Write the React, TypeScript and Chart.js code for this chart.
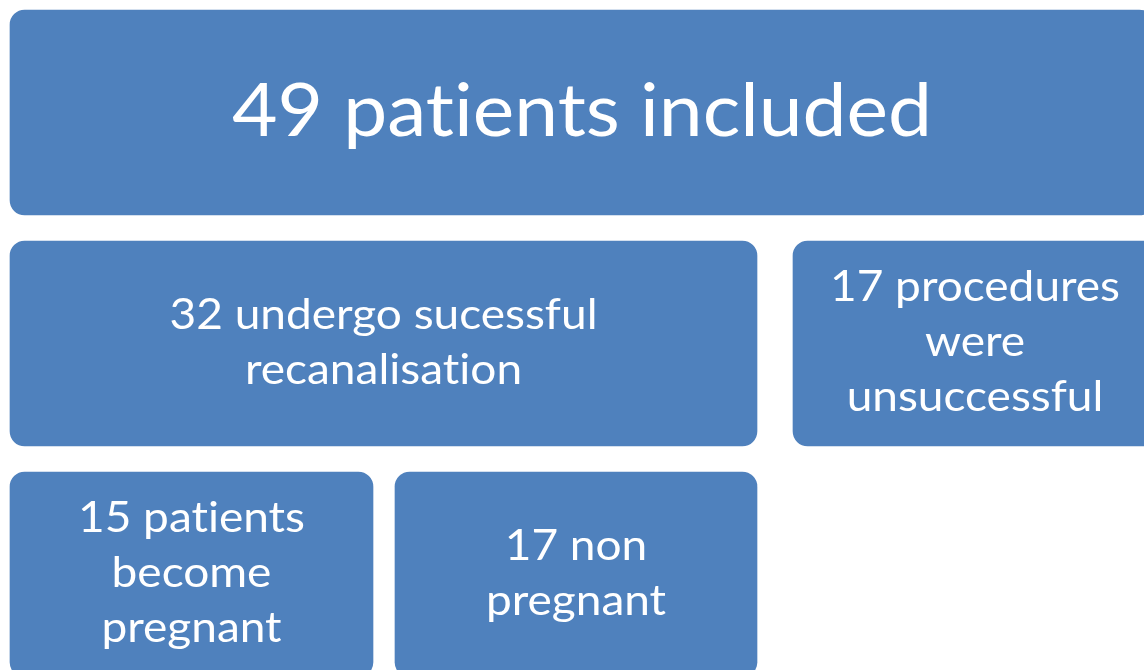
import React, { useEffect, useRef } from "react";
import { Chart, registerables } from "chart.js";

Chart.register(...registerables);

// Flowchart boxes (floating horizontal bars)
const boxLabels: string[][] = [
  ["49 patients included"],
  ["32 undergo sucessful", "recanalisation"],
  ["17 procedures", "were", "unsuccessful"],
  ["15 patients", "become", "pregnant"],
  ["17 non", "pregnant"],
];
const boxStart = [10, 10, 793, 10, 395];
const boxEnd = [1154, 757, 1157, 373, 757];
const boxRow = [0, 1, 1, 2, 2];

const BLUE = "#4F81BD";
const FONT = "Lato, 'Open Sans', sans-serif";

// split text between letters that Lato would join into ligatures (ti, fi, fl, tt)
function pieces(s: string): string[] {
  const out: string[] = [];
  let cur = "";
  for (let k = 0; k < s.length; k++) {
    cur += s[k];
    const a = s[k], b = s[k + 1];
    if (b && ((a === "t" && (b === "i" || b === "t")) || (a === "f" && (b === "i" || b === "l" || b === "f")))) {
      out.push(cur);
      cur = "";
    }
  }
  if (cur) out.push(cur);
  return out;
}

function drawLine(ctx: CanvasRenderingContext2D, s: string) {
  const parts = pieces(s);
  const widths = parts.map((p) => ctx.measureText(p).width);
  const total = widths.reduce((a, b) => a + b, 0);
  let x = -total / 2;
  parts.forEach((p, k) => {
    ctx.fillText(p, x, 0);
    x += widths[k];
  });
  return total;
}

function lineWidth(ctx: CanvasRenderingContext2D, s: string) {
  return pieces(s).reduce((a, p) => a + ctx.measureText(p).width, 0);
}

const textPlugin = {
  id: "boxText",
  afterDatasetsDraw(chart: any) {
    const ctx = chart.ctx as CanvasRenderingContext2D;
    const xs = chart.scales.x;
    const ys = chart.scales.y;
    ctx.save();
    ctx.fillStyle = "#ffffff";
    ctx.textAlign = "left";
    ctx.textBaseline = "alphabetic";
    ctx.font = `400 73px ${FONT}`;
    const titleFactor = 700 / lineWidth(ctx, boxLabels[0][0]);
    ctx.font = `400 42px ${FONT}`;
    const bodyFactor = 428 / lineWidth(ctx, boxLabels[1][0]);
    boxLabels.forEach((lines, i) => {
      const cx = xs.getPixelForValue((boxStart[i] + boxEnd[i]) / 2);
      const cy = ys.getPixelForValue(boxRow[i]);
      const isTitle = i === 0;
      const size = isTitle ? 73 : 42;
      const factor = isTitle ? titleFactor : bodyFactor;
      const lh = 55;
      const off = isTitle ? 23 : 12.5;
      ctx.font = `400 ${size}px ${FONT}`;
      lines.forEach((line, j) => {
        const y = cy + (j - (lines.length - 1) / 2) * lh + off;
        ctx.save();
        ctx.translate(cx, y);
        ctx.scale(factor, 1);
        drawLine(ctx, line);
        ctx.restore();
      });
    });
    ctx.restore();
  },
};

export default function App() {
  const ref = useRef<HTMLCanvasElement | null>(null);
  useEffect(() => {
    if (!ref.current) return;
    const pitch = 231;
    const firstCenter = 112.5;
    const chart = new Chart(ref.current, {
      type: "bar",
      data: {
        datasets: [
          {
            data: boxRow.map((r, i) => ({ x: [boxStart[i], boxEnd[i]], y: r })) as any,
            backgroundColor: BLUE,
            borderWidth: 0,
            borderRadius: 15,
            borderSkipped: false,
            barThickness: 205,
            grouped: false,
          } as any,
        ],
      },
      options: {
        indexAxis: "y",
        animation: false,
        responsive: false,
        devicePixelRatio: 1,
        layout: { padding: 0 },
        scales: {
          x: { type: "linear", min: 0, max: 1144, display: false, offset: false },
          y: {
            type: "linear",
            reverse: true,
            offset: false,
            grace: 0,
            min: -firstCenter / pitch,
            max: (670 - firstCenter) / pitch,
            display: false,
          },
        },
        plugins: {
          legend: { display: false },
          tooltip: { enabled: false },
        },
      },
      plugins: [textPlugin],
    });
    return () => chart.destroy();
  }, []);
  return (
    <div style={{ position: "absolute", left: 0, top: 0, width: 1144, height: 670, background: "#fff" }}>
      <canvas ref={ref} width={1144} height={670} />
    </div>
  );
}
